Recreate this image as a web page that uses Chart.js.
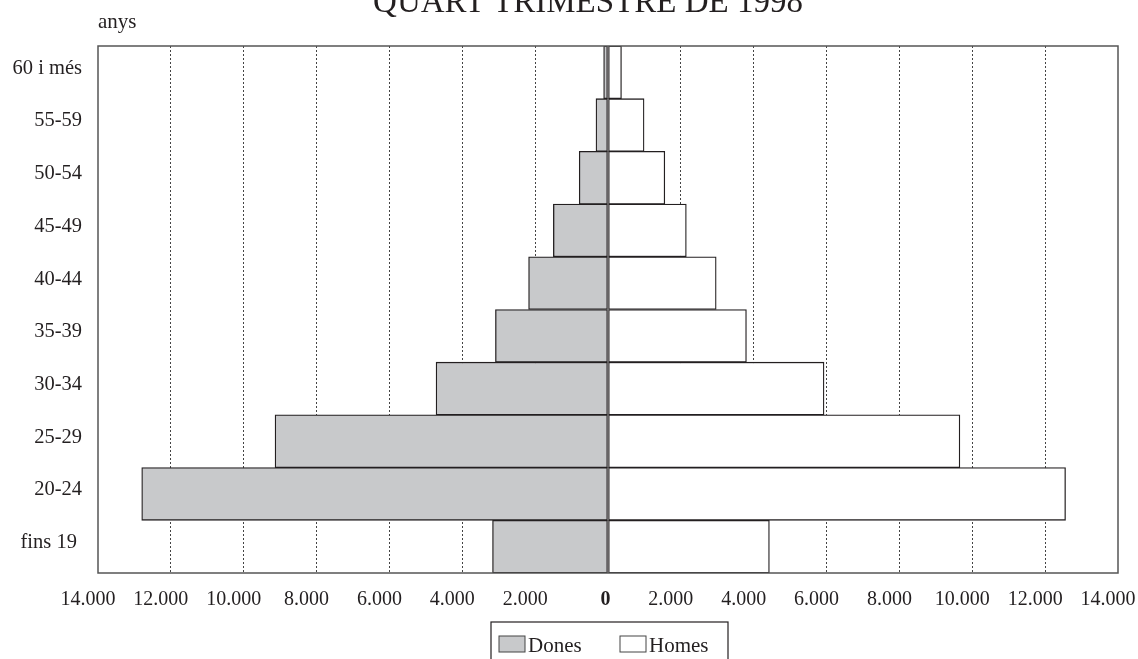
<!DOCTYPE html>
<html><head><meta charset="utf-8">
<script src="https://cdn.jsdelivr.net/npm/chart.js@4/dist/chart.umd.min.js"></script>
<style>html,body{margin:0;padding:0;background:#fff;overflow:hidden}canvas{display:block}</style>
</head><body>
<canvas id="c" width="1138" height="659"></canvas>
<script>
// Data (Dones drawn to the left, Homes to the right)
const categories = ['60 i més','55-59','50-54','45-49','40-44','35-39','30-34','25-29','20-24','fins 19 '];
const dones = [120, 330, 790, 1500, 2180, 3090, 4720, 9140, 12800, 3170];
const homes = [370, 990, 1560, 2150, 2970, 3800, 5930, 9660, 12560, 4430];
const seriesNames = ['Dones', 'Homes'];
const xMin = -14000, xMax = 14000, xStep = 2000;
const titleText = 'QUART TRIMESTRE DE 1998';
const yAxisTitle = 'anys';

const FAMILY = "'Liberation Serif','Times New Roman',serif";
const INK = '#231f20';
const GREY = '#c8c9cb';

function fmt(v){ return String(v).replace(/\B(?=(\d{3})+(?!\d))/g, '.'); }

const deco = {
  id: 'deco',
  afterDraw(chart){
    const ctx = chart.ctx, a = chart.chartArea;
    ctx.save();
    // plot frame
    ctx.strokeStyle = '#555'; ctx.lineWidth = 1.5;
    ctx.strokeRect(a.left, a.top, a.right - a.left, a.bottom - a.top);
    // title (partly cut at the top)
    ctx.fillStyle = INK;
    ctx.font = '33px ' + FAMILY;
    ctx.textAlign = 'center'; ctx.textBaseline = 'alphabetic';
    ctx.fillText(titleText, 588, 12);
    // axis title
    ctx.font = '21px ' + FAMILY;
    ctx.textAlign = 'left';
    ctx.fillText(yAxisTitle, 98, 28);
    // legend
    ctx.strokeStyle = INK; ctx.lineWidth = 1.2;
    ctx.strokeRect(491, 622, 237, 50);
    const ds = chart.data.datasets;
    const items = [{x:499, tx:528}, {x:620, tx:649}];
    items.forEach((it, i) => {
      ctx.fillStyle = ds[i].backgroundColor;
      ctx.fillRect(it.x, 636, 26, 16);
      ctx.strokeStyle = '#444'; ctx.lineWidth = 1;
      ctx.strokeRect(it.x, 636, 26, 16);
      ctx.fillStyle = INK;
      ctx.font = '21px ' + FAMILY;
      ctx.textBaseline = 'alphabetic';
      ctx.fillText(ds[i].label, it.tx, 652);
    });
    ctx.restore();
  }
};

new Chart(document.getElementById('c'), {
  type: 'bar',
  data: {
    labels: categories,
    datasets: [
      { label: seriesNames[0], data: dones.map(v => -v), backgroundColor: GREY, borderColor: INK, borderWidth: 1.3, borderSkipped: false, barPercentage: 1, categoryPercentage: 1 },
      { label: seriesNames[1], data: homes, backgroundColor: '#ffffff', borderColor: INK, borderWidth: 1.3, borderSkipped: false, barPercentage: 1, categoryPercentage: 1 }
    ]
  },
  options: {
    responsive: false,
    animation: false,
    indexAxis: 'y',
    layout: { padding: { top: 46, right: 20, left: 0, bottom: 0 } },
    plugins: { legend: { display: false }, tooltip: { enabled: false }, title: { display: false } },
    scales: {
      x: {
        type: 'linear', min: xMin, max: xMax, stacked: true,
        ticks: {
          stepSize: xStep, autoSkip: false, maxRotation: 0, padding: 15, labelOffset: -10,
          color: INK,
          callback: v => (v === 0 ? '   0' : fmt(Math.abs(v))),
          font: ctx => ({ family: FAMILY, size: 20, weight: (ctx.tick && ctx.tick.value === 0) ? 'bold' : 'normal' })
        },
        grid: {
          drawTicks: false, lineWidth: 1,
          color: ctx => (ctx.tick && (Math.abs(ctx.tick.value) === 14000 || ctx.tick.value === 0)) ? 'rgba(0,0,0,0)' : '#444'
        },
        border: { display: false, dash: [2, 2] },
        afterFit: s => { s.height = 86; s.paddingLeft = 0; s.paddingRight = 0; }
      },
      y: {
        stacked: true,
        grid: { display: false, drawTicks: false },
        border: { display: false },
        ticks: { color: INK, padding: 16, labelOffset: -4, font: { family: FAMILY, size: 20.5 } },
        afterFit: s => { s.width = 98; s.paddingTop = 0; s.paddingBottom = 0; }
      }
    }
  },
  plugins: [deco]
});
</script>
</body></html>
